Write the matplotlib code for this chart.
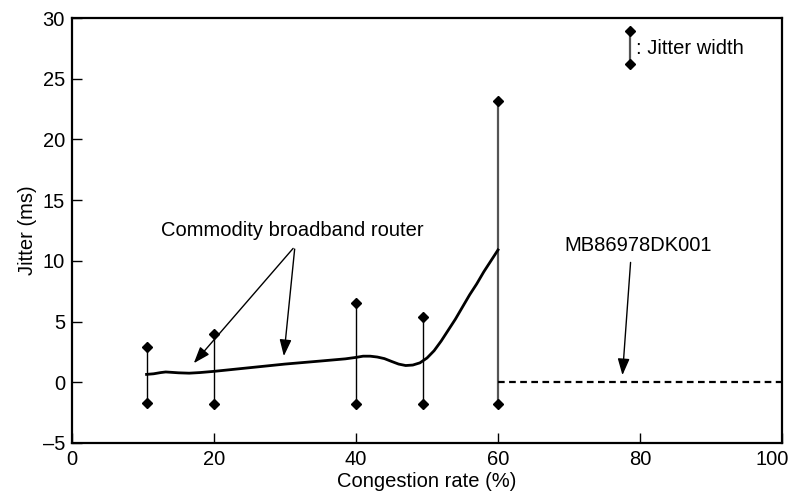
import matplotlib
matplotlib.use('Agg')
import matplotlib.pyplot as plt
import matplotlib.transforms as mtransforms

plt.rcParams['font.family'] = ['Liberation Sans', 'DejaVu Sans']

# jitter width bars (congestion rate, min, max)
bar_x = [10.5, 20, 40, 49.5, 60]
bar_lo = [-1.7, -1.8, -1.8, -1.8, -1.8]
bar_hi = [2.9, 4.0, 6.5, 5.4, 23.2]

# commodity broadband router curve
curve_x = [10.5, 11.5, 12.5, 13.2, 14, 15, 16.5, 18, 20, 25, 30, 35, 38.5, 40, 41, 42,
           43, 44, 45, 46, 47, 48, 49, 50, 51, 52, 53, 54, 55, 56, 57, 58, 59, 60]
curve_y = [0.65, 0.7, 0.8, 0.85, 0.82, 0.78, 0.75, 0.8, 0.9, 1.2, 1.5, 1.75, 1.93, 2.05,
           2.15, 2.15, 2.08, 1.95, 1.72, 1.5, 1.38, 1.42, 1.6, 2.0, 2.6, 3.4, 4.3, 5.2,
           6.2, 7.2, 8.1, 9.1, 10.0, 10.9]

# MB86978DK001
mb_x = [60, 100]
mb_y = [0.03, 0.03]

fig = plt.figure(figsize=(7.92, 4.95), dpi=100)
ax = fig.add_axes([72/792, (495-443)/495, 710/792, 425/495])

for i in range(len(bar_x)):
    col = '#555555' if bar_x[i] == 60 else 'black'
    lw = 1.6 if bar_x[i] == 60 else 1.0
    ax.plot([bar_x[i], bar_x[i]], [bar_lo[i], bar_hi[i]], color=col, lw=lw, zorder=2)
    ax.plot([bar_x[i], bar_x[i]], [bar_lo[i], bar_hi[i]], ls='none', marker='D',
            ms=5.5, color='black', zorder=3)

ax.plot(curve_x, curve_y, color='black', lw=2.0, zorder=4, solid_joinstyle='round')
ax.plot(mb_x, mb_y, color='black', lw=1.6, ls=(0, (3, 2)), zorder=4)

arw = dict(arrowstyle='-|>,head_length=0.5,head_width=0.18', color='black', lw=1.0,
           mutation_scale=20)
ax.annotate('', xy=(16.9, 1.4), xytext=(31.4, 11.2), arrowprops=arw)
ax.annotate('', xy=(29.8, 1.93), xytext=(31.4, 11.2), arrowprops=arw)
ax.text(31.1, 12.5, 'Commodity broadband router', ha='center', va='center', fontsize=14.5)

ax.annotate('', xy=(77.5, 0.36), xytext=(78.7, 10.1), arrowprops=arw)
ax.text(79.7, 11.3, 'MB86978DK001', ha='center', va='center', fontsize=14.5)

# legend glyph
ax.plot([78.6, 78.6], [26.2, 28.9], color='#555555', lw=1.6)
ax.plot([78.6, 78.6], [26.2, 28.9], ls='none', marker='D', ms=5.5, color='black')
ax.text(79.5, 27.5, ': Jitter width', ha='left', va='center', fontsize=14.5)

ax.set_xlim(0, 100)
ax.set_ylim(-5, 30)
ax.set_xticks([0, 20, 40, 60, 80, 100])
ax.set_yticks([-5, 0, 5, 10, 15, 20, 25, 30])
ax.set_yticklabels(['\u20135', '0', '5', '10', '15', '20', '25', '30'])
ax.tick_params(direction='in', length=7, width=1, labelsize=14.5, pad=5)
for s in ax.spines.values():
    s.set_linewidth(1.6)
ax.set_xlabel('Congestion rate (%)', fontsize=14.5, labelpad=2)
ax.set_ylabel('Jitter (ms)', fontsize=14.5, labelpad=4)

# keep the 100 label inside the figure
lbl = ax.get_xticklabels()[-1]
lbl.set_transform(lbl.get_transform() + mtransforms.ScaledTranslation(-10/100, 0, fig.dpi_scale_trans))

fig.savefig('out.png', dpi=100)
